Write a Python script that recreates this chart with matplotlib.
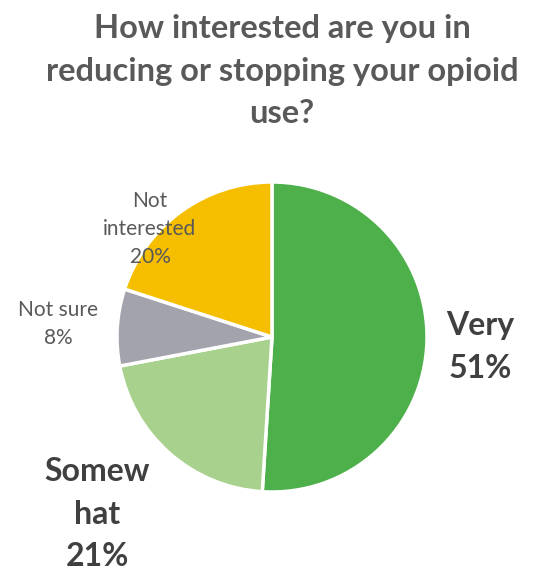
import matplotlib.pyplot as plt

plt.rcParams['font.family'] = ['Lato', 'DejaVu Sans']

# Survey responses, clockwise from 12 o'clock
categories = ["Very", "Somewhat", "Not sure", "Not interested"]
shares = [51, 21, 8, 20]
label_texts = ["Very\n51%", "Somew\nhat\n21%", "Not sure\n8%", "Not\ninterested\n20%"]
colors = ["#4DB04A", "#A9D18E", "#A3A3AD", "#F5BF00"]

fig = plt.figure(figsize=(5.47, 5.74), dpi=100)
ax = fig.add_axes([0, 0, 1, 1])

ax.pie(shares, colors=colors, startangle=90, counterclock=False,
       center=(272, 237), radius=155, frame=True,
       wedgeprops=dict(edgecolor="white", linewidth=2.5))
ax.set_xlim(0, 547)
ax.set_ylim(0, 574)
ax.set_aspect("equal")
ax.axis("off")

ax.text(282, 574 - 71, "How interested are you in\nreducing or stopping your opioid\nuse?",
        ha="center", va="center", fontsize=23.5, fontweight="bold",
        color="#595959", linespacing=1.55)

# Slice labels: big bold for the two largest groups, plain for the rest
ax.text(480, 574 - 347, label_texts[0], ha="center", va="center",
        fontsize=23, fontweight="bold", color="#404040", linespacing=1.6)
ax.text(97, 574 - 514, label_texts[1], ha="center", va="center",
        fontsize=23, fontweight="bold", color="#404040", linespacing=1.58)
ax.text(58, 574 - 324, label_texts[2], ha="center", va="center",
        fontsize=15, color="#595959", linespacing=1.45)
ax.text(150, 574 - 229, label_texts[3], ha="center", va="center",
        fontsize=15, color="#595959", linespacing=1.5)

fig.savefig("out.png", dpi=100, facecolor="white")
